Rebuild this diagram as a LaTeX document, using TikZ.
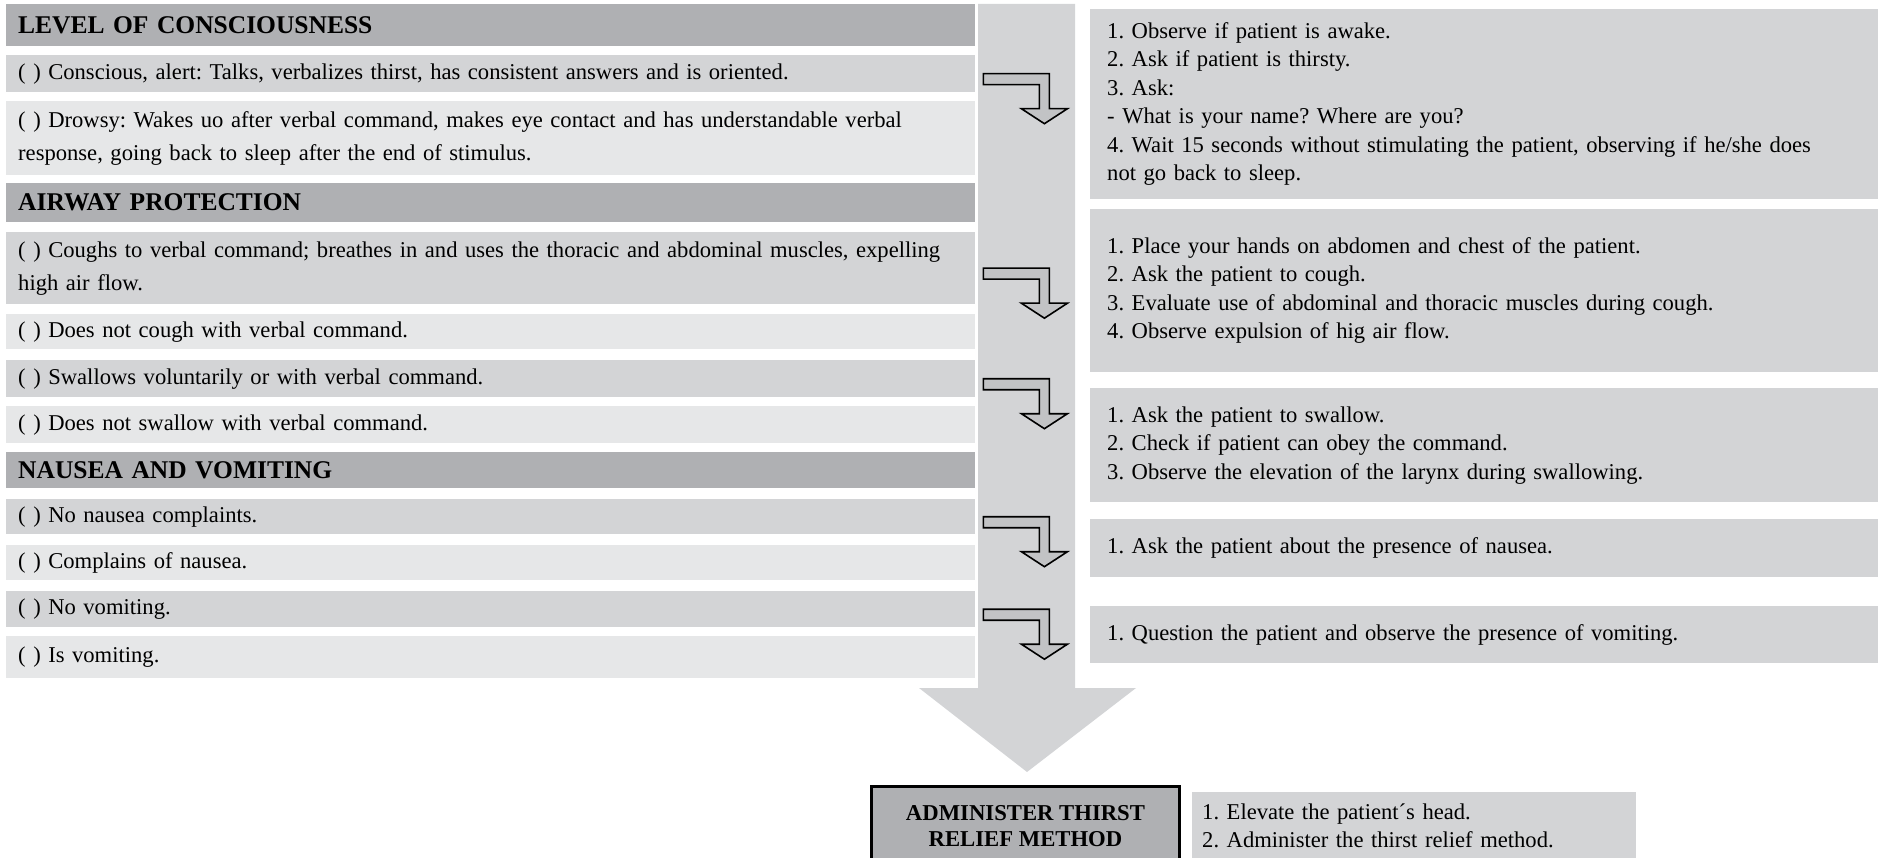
\documentclass[tikz,border=0pt]{standalone}
\usepackage{fontspec}
\setmainfont{Liberation Serif}
\usetikzlibrary{positioning}
\frenchspacing

\definecolor{headgray}{HTML}{AFB0B3}
\definecolor{rowdark}{HTML}{D3D4D6}
\definecolor{rowlight}{HTML}{E6E7E8}
\definecolor{arrowfill}{HTML}{C2C3C5}

\tikzset{
  head/.style={anchor=north west, fill=headgray, minimum width=969pt, text width=945pt,
    inner xsep=12pt, inner ysep=0pt, align=left, font=\fontsize{25.5}{30}\selectfont\bfseries},
  rowA/.style={anchor=north west, fill=rowdark, minimum width=969pt, text width=945pt,
    inner xsep=12pt, inner ysep=0pt, align=left, font=\fontsize{22.6}{33}\selectfont},
  rowB/.style={rowA, fill=rowlight},
  stepbox/.style={anchor=north west, fill=rowdark, minimum width=788pt, text width=754pt,
    inner xsep=17pt, inner ysep=0pt, align=left, font=\fontsize{22.6}{28.5}\selectfont},
  bent/.pic={
    \draw[line width=1.6pt, fill=arrowfill, line join=miter]
      (0,0) -- (66,0) -- (66,35) -- (84,35) -- (61,50) -- (38,35) -- (56,35) -- (56,11) -- (0,11) -- cycle;
  }
}

\begin{document}
\begin{tikzpicture}[x=1pt,y=-1pt]
        \useasboundingbox (0,0) rectangle (1878,858);
        \clip (0,0) rectangle (1878,858);
        % left column
        \node[head, minimum height=42] (h1) at (6,4) {LEVEL OF CONSCIOUSNESS};
        \node[rowA, minimum height=37] (i1) at (6,55) {( ) Conscious, alert: Talks, verbalizes thirst, has consistent answers and is oriented.};
        \node[rowB, minimum height=74] (i2) at (6,101) {( ) Drowsy: Wakes uo after verbal command, makes eye contact and has understandable verbal\\response, going back to sleep after the end of stimulus.};
        \node[head, minimum height=39] (h2) at (6,183) {AIRWAY PROTECTION};
        \node[rowA, minimum height=72] (i3) at (6,232) {( ) Coughs to verbal command; breathes in and uses the thoracic and abdominal muscles, expelling\\high air flow.};
        \node[rowB, minimum height=35] (i4) at (6,314) {( ) Does not cough with verbal command.};
        \node[rowA, minimum height=37] (i5) at (6,360) {( ) Swallows voluntarily or with verbal command.};
        \node[rowB, minimum height=37] (i6) at (6,406) {( ) Does not swallow with verbal command.};
        \node[head, minimum height=36] (h3) at (6,452) {NAUSEA AND VOMITING};
        \node[rowA, minimum height=35] (i7) at (6,499) {( ) No nausea complaints.};
        \node[rowB, minimum height=35] (i8) at (6,545) {( ) Complains of nausea.};
        \node[rowA, minimum height=36] (i9) at (6,591) {( ) No vomiting.};
        \node[rowB, minimum height=42] (i10) at (6,636) {( ) Is vomiting.};

        % right column
        \node[stepbox, minimum height=190] (s1) at (1090,9) {1. Observe if patient is awake.\\2. Ask if patient is thirsty.\\3. Ask:\\- What is your name? Where are you?\\4. Wait 15 seconds without stimulating the patient, observing if he/she does\\not go back to sleep.};
        \node[stepbox, minimum height=163] (s2) at (1090,209) {1. Place your hands on abdomen and chest of the patient.\\2. Ask the patient to cough.\\3. Evaluate use of abdominal and thoracic muscles during cough.\\4. Observe expulsion of hig air flow.};
        \node[stepbox, minimum height=114] (s3) at (1090,388) {1. Ask the patient to swallow.\\2. Check if patient can obey the command.\\3. Observe the elevation of the larynx during swallowing.};
        \node[stepbox, minimum height=58] (s4) at (1090,519) {1. Ask the patient about the presence of nausea.};
        \node[stepbox, minimum height=57] (s5) at (1090,606) {1. Question the patient and observe the presence of vomiting.};

        % bottom
        \node[anchor=north west, draw, line width=3pt, fill=headgray, minimum width=308pt, minimum height=80pt,
          align=center, font=\fontsize{22.7}{26}\selectfont\bfseries] (relief) at (870,785) {ADMINISTER THIRST\\RELIEF METHOD};
        \node[stepbox, minimum width=444pt, text width=424pt, inner xsep=10pt, minimum height=68,
          font=\fontsize{22.6}{28}\selectfont] (s6) at (1192,792) {1. Elevate the patient´s head.\\2. Administer the thirst relief method.};

        % big arrow
        \fill[rowdark] (978,4) -- (1075,4) -- (1075,688) -- (1136,688) -- (1027,772) -- (919,688) -- (978,688) -- cycle;

        % bent arrows
        \foreach \n in {i1,i3,i5,i7,i9}
          \pic at ([xshift=8pt]\n.east) {bent};
\end{tikzpicture}
\end{document}
